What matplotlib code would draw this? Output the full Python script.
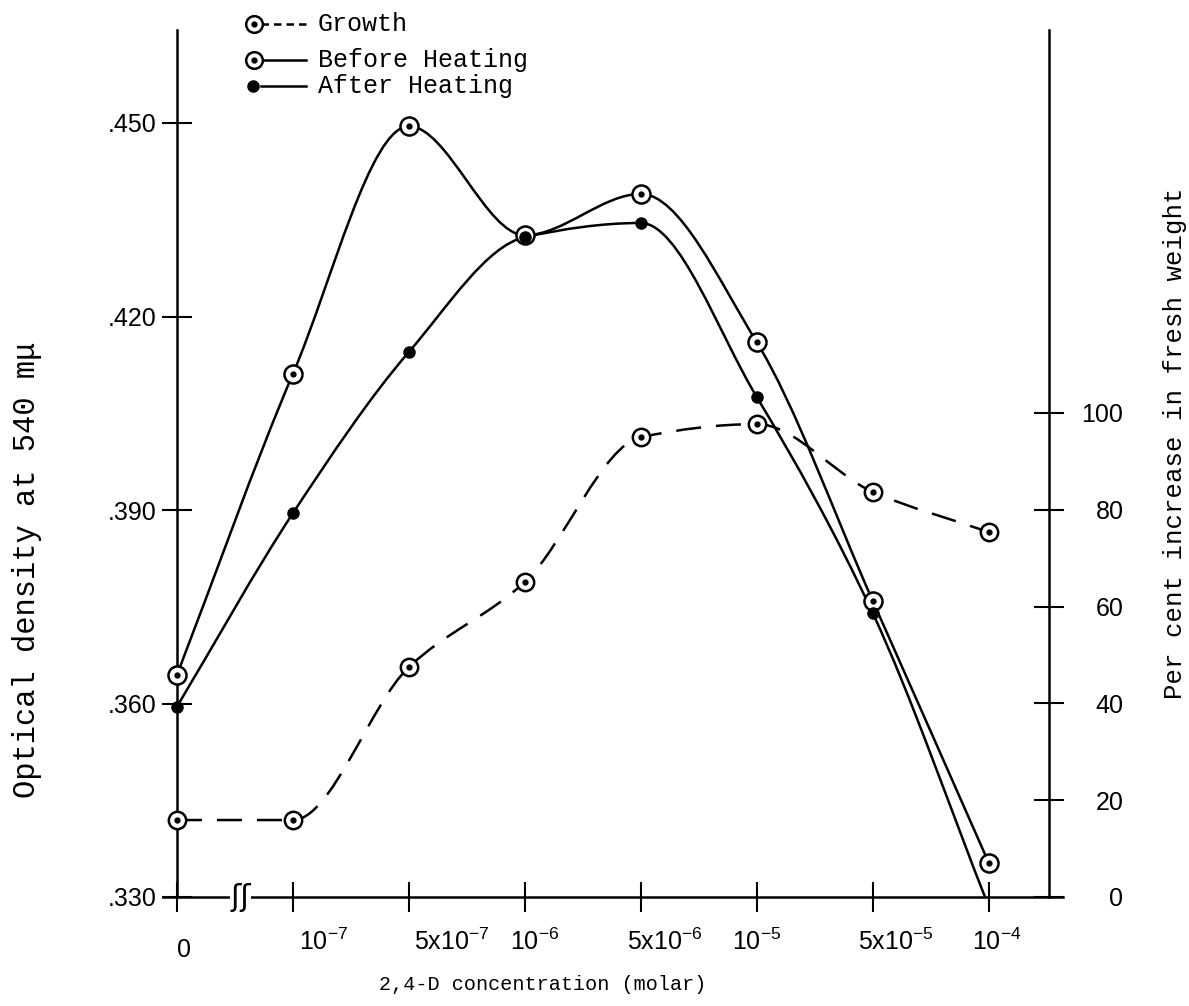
import matplotlib
matplotlib.use("Agg")
import matplotlib.pyplot as plt
import numpy as np
from matplotlib.path import Path
from matplotlib.patches import PathPatch
from matplotlib.lines import Line2D
import matplotlib.transforms as mtrans

plt.rcParams['mathtext.fontset'] = 'custom'
plt.rcParams['mathtext.rm'] = 'Liberation Sans'
plt.rcParams['mathtext.it'] = 'Liberation Sans:italic'

# data
conc_labels = ["0", r"$\mathregular{10^{-7}}$", r"$\mathregular{5x10^{-7}}$",
               r"$\mathregular{10^{-6}}$", r"$\mathregular{5x10^{-6}}$",
               r"$\mathregular{10^{-5}}$", r"$\mathregular{5x10^{-5}}$",
               r"$\mathregular{10^{-4}}$"]
before_heating = [0.3644, 0.4111, 0.4495, 0.4326, 0.4390, 0.4160, 0.3759, 0.3353]
after_heating = [0.3595, 0.3895, 0.4145, 0.4323, 0.4345, 0.4075, 0.3740, 0.3285]
growth = [15.9, 15.9, 47.5, 65.1, 95.0, 97.7, 83.7, 75.4]

left_ticks = [0.330, 0.360, 0.390, 0.420, 0.450]
right_ticks = [0, 20, 40, 60, 80, 100]

mono = "Liberation Mono"
sans = "Liberation Sans"

W, H = 1189, 1006
fig = plt.figure(figsize=(W / 100, H / 100), dpi=100)
ax = fig.add_axes([163 / W, (H - 897) / H, 900 / W, 867 / H])
ax2 = ax.twinx()

x = np.arange(len(conc_labels))


def smooth_path(xs, ys):
    # monotone cubic (Fritsch-Carlson) curve through the points, as beziers
    xs = np.asarray(xs, float)
    ys = np.asarray(ys, float)
    h = np.diff(xs)
    d = np.diff(ys) / h
    m = np.zeros(len(ys))
    m[0], m[-1] = d[0], d[-1]
    for k in range(1, len(ys) - 1):
        if d[k - 1] * d[k] > 0:
            m[k] = 2 / (1 / d[k - 1] + 1 / d[k])
    verts = [(xs[0], ys[0])]
    codes = [Path.MOVETO]
    for k in range(len(ys) - 1):
        verts += [(xs[k] + h[k] / 3, ys[k] + m[k] * h[k] / 3),
                  (xs[k + 1] - h[k] / 3, ys[k + 1] - m[k + 1] * h[k] / 3),
                  (xs[k + 1], ys[k + 1])]
        codes += [Path.CURVE4] * 3
    return Path(verts, codes)


lw = 1.8
ax.add_patch(PathPatch(smooth_path(x, before_heating), fill=False, lw=lw,
                       ec="black", zorder=3))
ax.add_patch(PathPatch(smooth_path(x, after_heating), fill=False, lw=lw,
                       ec="black", zorder=3))
ax2.add_patch(PathPatch(smooth_path(x, growth), fill=False, lw=lw,
                        ec="black", ls=(0, (10, 6)), zorder=3))

ax.plot(x, before_heating, ls="none", marker="o", ms=13, mfc="white",
        mec="black", mew=1.8, zorder=4)
ax.plot(x, before_heating, ls="none", marker="o", ms=3.5, color="black", zorder=5)
ax.plot(x[:-1], after_heating[:-1], ls="none", marker="o", ms=8, color="black",
        zorder=5)
ax2.plot(x, growth, ls="none", marker="o", ms=12.5, mfc="white",
         mec="black", mew=1.8, zorder=4)
ax2.plot(x, growth, ls="none", marker="o", ms=3.5, color="black", zorder=5)

# axes
ax.set_xlim(-0.12, 7.64)
ax.set_ylim(0.330, 0.330 + 867 / 193.5 * 0.03)
ax2.set_ylim(0, 867 / 4.84)

for s in ["top", "right"]:
    ax.spines[s].set_visible(False)
for s in ["top", "left", "bottom"]:
    ax2.spines[s].set_visible(False)
ax.spines["left"].set_position(("data", 0))
ax2.spines["right"].set_position(("data", 7.52))
for sp in [ax.spines["left"], ax.spines["bottom"], ax2.spines["right"]]:
    sp.set_linewidth(1.8)

ax.set_yticks(left_ticks)
ax.set_yticklabels(["." + f"{v:.3f}".split(".")[1] for v in left_ticks])
ax2.set_yticks(right_ticks)
ax2.set_yticklabels([str(v) for v in right_ticks])
ax.set_xticks(x)
ax.set_xticklabels(conc_labels)

ax.tick_params(axis="y", direction="inout", length=21, width=1.5,
               labelsize=18, pad=4)
ax.tick_params(axis="x", direction="inout", length=21, width=1.5,
               labelsize=18, pad=3)
ax2.tick_params(axis="y", direction="inout", length=21, width=1.5,
                labelsize=18, pad=43)
for lbl in ax.get_yticklabels() + ax.get_xticklabels() + ax2.get_yticklabels():
    lbl.set_fontfamily(sans)
for lbl in ax2.get_yticklabels():
    lbl.set_horizontalalignment("right")

# hand typed labels sit a bit right of / below the ticks
shift_px = [7, 31, 43, 10, 24, 0, 23, 8]
drop_px = [-22, -13, -13, -13, -13, -13, -13, -13]
for lbl, dx, dy in zip(ax.get_xticklabels(), shift_px, drop_px):
    lbl.set_transform(lbl.get_transform() +
                      mtrans.ScaledTranslation(dx / 100, dy / 100,
                                               fig.dpi_scale_trans))

# axis break on the concentration axis
ax.text(0.55, 0.330, "ʃʃ", fontsize=22, family="DejaVu Sans", ha="center",
        va="center", zorder=6, clip_on=False,
        bbox=dict(fc="white", ec="none", pad=0))

ax.set_xlabel("2,4-D concentration (molar)", family=mono, fontsize=14.5,
              va="center", ha="center")
ax.xaxis.set_label_coords((543 - 163) / 900, (897 - 985) / 867)
ax.set_ylabel("Optical density at 540 mμ", family=mono, fontsize=22,
              va="center", ha="center")
ax.yaxis.set_label_coords((27 - 163) / 900, (897 - 570) / 867)
ax2.set_ylabel("Per cent increase in fresh weight", family=mono, fontsize=18.5,
               va="center", ha="center", rotation=90)
ax2.yaxis.set_label_coords((1175 - 163) / 900, (897 - 443) / 867)

# legend drawn by hand in figure pixels
def fx(px):
    return px / W


def fy(py):
    return 1 - py / H


rows = [("Growth", 24, (0, (3, 2))), ("Before Heating", 60, "-"),
        ("After Heating", 86, "-")]
for name, py, style in rows:
    fig.add_artist(Line2D([fx(261), fx(306)], [fy(py), fy(py)], lw=lw,
                          color="black", ls=style, transform=fig.transFigure))
    if name == "After Heating":
        fig.add_artist(Line2D([fx(253)], [fy(py)], marker="o", ms=8,
                              color="black", transform=fig.transFigure))
    else:
        fig.add_artist(Line2D([fx(254)], [fy(py)], marker="o", ms=12,
                              mfc="white", mec="black", mew=1.8,
                              transform=fig.transFigure))
        fig.add_artist(Line2D([fx(254)], [fy(py)], marker="o", ms=3.5,
                              color="black", transform=fig.transFigure))
    fig.text(fx(318), fy(py), name, family=mono, fontsize=18, va="center")

fig.savefig("out.png", dpi=100)
